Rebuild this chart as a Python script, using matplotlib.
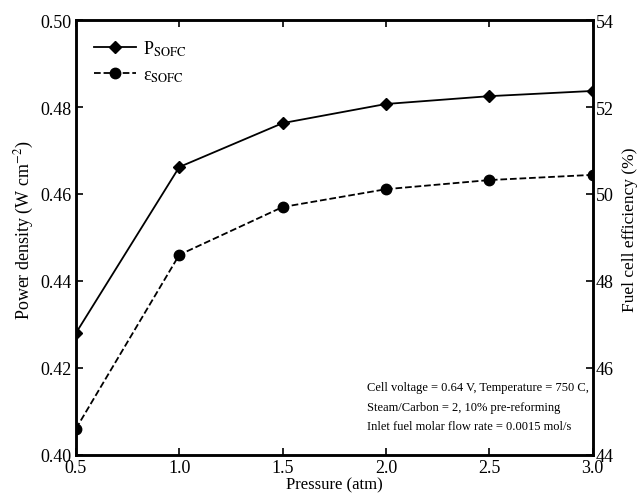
import matplotlib
matplotlib.use("Agg")
import matplotlib.pyplot as plt

plt.rcParams['font.family'] = ['Liberation Serif', 'DejaVu Serif']
plt.rcParams['mathtext.fontset'] = 'stix'
plt.rcParams['font.size'] = 13

# pressure sweep
pressure = [0.5, 1.0, 1.5, 2.0, 2.5, 3.0]
power_density = [0.428, 0.4662, 0.4763, 0.4807, 0.4825, 0.4837]
efficiency = [44.6, 48.6, 49.7, 50.11, 50.32, 50.44]

fig = plt.figure(figsize=(6.38, 5.02), dpi=100)
ax = fig.add_axes([0.119, 0.092, 0.81, 0.866])
ax2 = ax.twinx()

l1, = ax.plot(pressure, power_density, '-', color='k', lw=1.3,
              marker='D', ms=6.5, label=r'P$_{\mathrm{SOFC}}$')
l2, = ax2.plot(pressure, efficiency, '--', color='k', lw=1.3,
               marker='o', ms=7.5, label='ε' + r'$_{\mathrm{SOFC}}$')

ax.set_xlim(0.5, 3.0)
ax.set_ylim(0.40, 0.50)
ax2.set_ylim(44, 54)
ax.set_xticks([0.5, 1.0, 1.5, 2.0, 2.5, 3.0])
ax.set_yticks([0.40, 0.42, 0.44, 0.46, 0.48, 0.50])
ax2.set_yticks([44, 46, 48, 50, 52, 54])
ax.set_xticklabels(['0.5', '1.0', '1.5', '2.0', '2.5', '3.0'])
ax.set_yticklabels(['0.40', '0.42', '0.44', '0.46', '0.48', '0.50'])

ax.tick_params(direction='in', top=True, length=5, width=1.2, pad=3)
ax2.tick_params(direction='in', length=5, width=1.2, pad=2)
for a in (ax, ax2):
    for s in a.spines.values():
        s.set_linewidth(1.8)

ax.set_xlabel('Pressure (atm)', fontsize=12, labelpad=0)
ax.set_ylabel(r'Power density (W cm$^{-2}$)')
ax2.set_ylabel('Fuel cell efficiency (%)', fontsize=12.5)
ax.yaxis.set_label_coords(-0.078, 0.52)
ax2.yaxis.set_label_coords(1.056, 0.52)

ax.legend(handles=[l1, l2], loc='upper left', frameon=False,
          fontsize=13, handlelength=2.3, handletextpad=0.4,
          borderaxespad=0.6, labelspacing=0.5)

ax.text(0.563, 0.17, 'Cell voltage = 0.64 V, Temperature = 750 C,\n'
        'Steam/Carbon = 2, 10% pre-reforming\n'
        'Inlet fuel molar flow rate = 0.0015 mol/s',
        transform=ax.transAxes, ha='left', va='top', fontsize=9.0,
        linespacing=1.85)

fig.savefig('out.png', dpi=100)
